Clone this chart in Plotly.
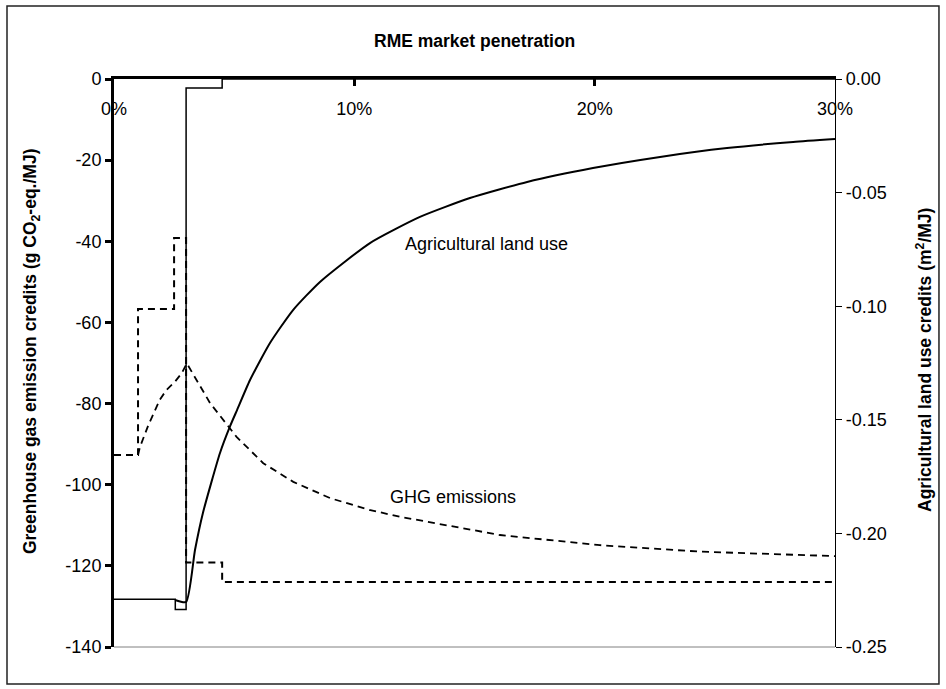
import plotly.graph_objects as go

# Market penetration of RME (%), and step / curve values read per series
ghg_step_x = [0, 1.0, 2.5, 3.0, 4.5, 30]
ghg_step_y = [-92.7, -56.7, -39.2, -119.2, -124.0, -124.0]

ghg_curve_x = [1.0, 1.08, 1.43, 1.91, 2.19, 2.54, 2.82, 3.03, 4.0, 5.1, 6.21,
               7.46, 8.99, 10.62, 11.9, 16.06, 20.22, 24.39, 30.0]
ghg_curve_y = [-92.7, -90.7, -85.3, -79.0, -76.6, -74.6, -72.5, -70.1, -79.9,
               -88.2, -94.7, -99.3, -103.3, -106.2, -107.9, -112.4, -114.9,
               -116.5, -117.6]

land_step_x = [0, 2.55, 3.0, 4.5, 30]
land_step_y = [-0.229, -0.2335, -0.004, 0.0, 0.0]

land_curve_x = [2.54, 3.0, 3.37, 3.70, 4.41, 4.83, 5.12, 5.66, 6.49, 7.45,
                8.57, 10.65, 12.73, 14.81, 17.19, 19.93, 22.72, 25.51, 28.26,
                30.0]
land_curve_y = [-0.2293, -0.2302, -0.2073, -0.1910, -0.1646, -0.1528, -0.1457,
                -0.1325, -0.1162, -0.1017, -0.0893, -0.0722, -0.0607, -0.0524,
                -0.0453, -0.0392, -0.0343, -0.0304, -0.0277, -0.0264]

x_ticks = [0, 10, 20, 30]
x_tick_text = ["0%", "10%", "20%", "30%"]
ghg_ticks = [0, -20, -40, -60, -80, -100, -120, -140]
ghg_tick_text = ["0", "-20", "-40", "-60", "-80", "-100", "-120", "-140"]
land_ticks = [0.0, -0.05, -0.10, -0.15, -0.20, -0.25]
land_tick_text = ["0.00", "-0.05", "-0.10", "-0.15", "-0.20", "-0.25"]

FONT = "Arial, Liberation Sans, sans-serif"
DASH = "7px,5px"
TICKFONT = dict(family=FONT, size=18, color="black")

fig = go.Figure()

fig.add_trace(go.Scatter(
    x=ghg_step_x, y=ghg_step_y, mode="lines", line_shape="hv",
    line=dict(color="black", width=2, dash=DASH), yaxis="y",
    name="GHG step", showlegend=False))
fig.add_trace(go.Scatter(
    x=ghg_curve_x, y=ghg_curve_y, mode="lines",
    line=dict(color="black", width=1.8, dash=DASH), yaxis="y",
    name="GHG emissions", showlegend=False))
fig.add_trace(go.Scatter(
    x=land_step_x, y=land_step_y, mode="lines", line_shape="hv",
    line=dict(color="black", width=1.5), yaxis="y2",
    name="Land use step", showlegend=False))
fig.add_trace(go.Scatter(
    x=land_curve_x, y=land_curve_y, mode="lines", line_shape="spline",
    line=dict(color="black", width=2, smoothing=0.55), yaxis="y2",
    name="Agricultural land use", showlegend=False))

fig.update_layout(
    width=946, height=689,
    margin=dict(l=114, r=111, t=79, b=42),
    paper_bgcolor="white", plot_bgcolor="white",
    font=dict(family=FONT, size=18, color="black"),
    xaxis=dict(
        range=[0, 30], side="top", anchor="y",
        showline=True, linewidth=3, linecolor="black",
        ticks="inside", ticklen=7, tickwidth=3, tickcolor="black",
        tickvals=x_ticks, ticktext=x_tick_text, tickfont=TICKFONT,
        ticklabelposition="inside", ticklabeloverflow="allow",
        ticklabelstandoff=17,
        showgrid=False, zeroline=False,
    ),
    yaxis=dict(
        range=[-140, 0], showline=True, linewidth=3, linecolor="black",
        ticks="outside", ticklen=6, tickwidth=3, tickcolor="black",
        tickvals=ghg_ticks, ticktext=ghg_tick_text, tickfont=TICKFONT,
        showgrid=False, zeroline=False,
    ),
    yaxis2=dict(
        range=[-0.25, 0], overlaying="y", side="right", anchor="x",
        showline=True, linewidth=1.2, linecolor="black",
        ticks="outside", ticklen=6, tickwidth=1.2, tickcolor="black",
        tickvals=land_ticks, ticktext=land_tick_text, tickfont=TICKFONT,
        showgrid=False, zeroline=False,
    ),
    yaxis3=dict(
        range=[-0.25, 0], overlaying="y", side="right", anchor="x",
        showline=False, ticks="inside", ticklen=6, tickwidth=1.2,
        tickcolor="black", tickvals=land_ticks, showticklabels=False,
        showgrid=False, zeroline=False,
    ),
    shapes=[
        # plot-area floor
        dict(type="line", xref="paper", yref="paper", x0=0, x1=1, y0=0, y1=0,
             line=dict(color="#808080", width=1)),
        # chart frame
        dict(type="rect", xref="paper", yref="paper",
             x0=-0.1484, x1=1.1442, y0=-0.0651, y1=1.1285,
             line=dict(color="#222222", width=1.5)),
    ],
    annotations=[
        dict(text="<b>RME market penetration</b>", xref="paper", yref="paper",
             x=0.5, y=1.067, showarrow=False, font=dict(size=17.5),
             xanchor="center", yanchor="middle"),
        dict(text="<b>Greenhouse gas emission credits (g CO<sub>2</sub>-eq./MJ)</b>",
             xref="paper", yref="paper", x=-0.1151, y=0.521, textangle=-90,
             showarrow=False, font=dict(size=17.5),
             xanchor="center", yanchor="middle"),
        dict(text="<b>Agricultural land use credits (m<sup>2</sup>/MJ)</b>",
             xref="paper", yref="paper", x=1.1234, y=0.5053, textangle=-90,
             showarrow=False, font=dict(size=17.5),
             xanchor="center", yanchor="middle"),
        dict(text="Agricultural land use", xref="x", yref="y",
             x=15.48, y=-40.7, showarrow=False, font=dict(size=18),
             xanchor="center", yanchor="middle"),
        dict(text="GHG emissions", xref="x", yref="y",
             x=14.1, y=-103.0, showarrow=False, font=dict(size=18),
             xanchor="center", yanchor="middle"),
    ],
)

fig.write_html("out.html")
